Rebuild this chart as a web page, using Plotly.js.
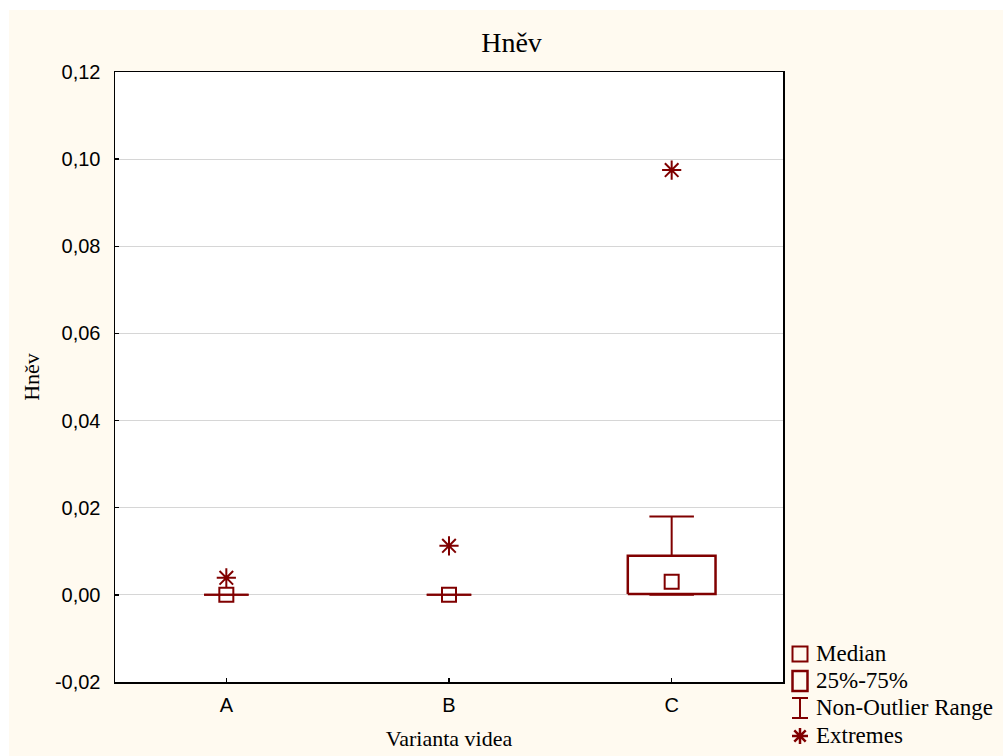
<!DOCTYPE html>
<html>
<head>
<meta charset="utf-8">
<script src="https://cdn.plot.ly/plotly-3.0.1.min.js"></script>
<style>html,body{margin:0;padding:0;background:#fff;}#chart{width:1003px;height:756px;}</style>
</head>
<body>
<div id="chart"></div>
<script>
// ---- data ----
const categories = ['A', 'B', 'C'];
const medians = [0, 0, 0.003];
const q1 = [0, 0, 0.0002];
const q3 = [0, 0, 0.009];
const whiskerLow = [0, 0, 0];
const whiskerHigh = [0, 0, 0.018];
const extremes = [0.0039, 0.01125, 0.0975];
const yTickVals = [-0.02, 0, 0.02, 0.04, 0.06, 0.08, 0.10, 0.12];
const yTickText = ['-0,02', '0,00', '0,02', '0,04', '0,06', '0,08', '0,10', '0,12'];
const legendLabels = ['Median', '25%-75%', 'Non-Outlier Range', 'Extremes'];

// ---- style ----
const RED = '#800000';
const BOXHALF = 0.197;
const CAPHALF = 0.1;
const serif = 'Liberation Serif, Times New Roman, serif';
const sans = 'Liberation Sans, Arial, sans-serif';

const xs = categories.map((c, i) => i);
const traces = [];

// boxes (only drawn where the box has height)
const bx = [], by = [];
xs.forEach((x, i) => {
  if (q3[i] > q1[i]) {
    bx.push(x - BOXHALF, x + BOXHALF, x + BOXHALF, x - BOXHALF, x - BOXHALF, null);
    by.push(q1[i], q1[i], q3[i], q3[i], q1[i], null);
  }
});
traces.push({x: bx, y: by, mode: 'lines', line: {color: RED, width: 2.5}, showlegend: false, hoverinfo: 'skip'});

// whiskers
const wx = [], wy = [];
xs.forEach((x, i) => {
  wx.push(x - CAPHALF, x + CAPHALF, null, x, x, null, x - CAPHALF, x + CAPHALF, null, x, x, null);
  wy.push(whiskerHigh[i], whiskerHigh[i], null, whiskerHigh[i], q3[i], null, whiskerLow[i], whiskerLow[i], null, q1[i], whiskerLow[i], null);
});
traces.push({x: wx, y: wy, mode: 'lines', line: {color: RED, width: 2}, showlegend: false, hoverinfo: 'skip'});

// medians
traces.push({x: xs, y: medians, mode: 'markers', name: 'Median', showlegend: false,
  marker: {symbol: 'square-open', size: 14, color: RED, line: {width: 2, color: RED}}});

// extremes
traces.push({x: xs, y: extremes, mode: 'markers', name: 'Extremes', showlegend: false,
  marker: {symbol: 'asterisk-open', size: 16, color: RED, line: {width: 2, color: RED}}});

const W = 1003, H = 756, L = 115, R = 220, T = 72, B = 74;
const pw = W - L - R, ph = H - T - B;
const px = v => (v - L) / pw;
const py = v => (H - B - v) / ph;

// ---- manual legend (layout decoration) ----
const legRows = [654, 681, 708, 736];
const keyX = 800, textX = 815;
const annotations = legendLabels.map((t, i) => ({
  text: t, xref: 'paper', yref: 'paper', x: px(textX), y: py(legRows[i] - 1),
  xanchor: 'left', yanchor: 'middle', showarrow: false, borderpad: 0,
  font: {family: serif, size: 23, color: '#000'}
}));
const shapes = [
  // white frame outside the cream panel
  {type: 'rect', xref: 'paper', yref: 'paper', x0: px(0), x1: px(W), y0: py(10), y1: py(0),
   fillcolor: '#ffffff', line: {width: 0}, layer: 'below'},
  {type: 'rect', xref: 'paper', yref: 'paper', x0: px(0), x1: px(9), y0: py(H), y1: py(0),
   fillcolor: '#ffffff', line: {width: 0}, layer: 'below'},
  // Median key
  {type: 'rect', xref: 'paper', yref: 'paper', x0: px(keyX - 7.5), x1: px(keyX + 7.5),
   y0: py(legRows[0] + 7.5), y1: py(legRows[0] - 7.5), line: {color: RED, width: 2}},
  // 25%-75% key
  {type: 'rect', xref: 'paper', yref: 'paper', x0: px(keyX - 7.5), x1: px(keyX + 7.5),
   y0: py(legRows[1] + 10), y1: py(legRows[1] - 10), line: {color: RED, width: 2.5}},
  // Non-outlier key (I-beam)
  {type: 'line', xref: 'paper', yref: 'paper', x0: px(keyX - 8), x1: px(keyX + 8),
   y0: py(legRows[2] - 10), y1: py(legRows[2] - 10), line: {color: RED, width: 2}},
  {type: 'line', xref: 'paper', yref: 'paper', x0: px(keyX), x1: px(keyX),
   y0: py(legRows[2] - 10), y1: py(legRows[2] + 10), line: {color: RED, width: 2}},
  {type: 'line', xref: 'paper', yref: 'paper', x0: px(keyX - 8), x1: px(keyX + 8),
   y0: py(legRows[2] + 10), y1: py(legRows[2] + 10), line: {color: RED, width: 2}},
  // Extremes key (asterisk)
  {type: 'path', xref: 'paper', yref: 'paper', xsizemode: 'pixel', ysizemode: 'pixel',
   xanchor: px(keyX), yanchor: py(legRows[3]),
   path: 'M-8,0H8M0,-8V8M-5.7,-5.7L5.7,5.7M-5.7,5.7L5.7,-5.7', line: {color: RED, width: 2.5}}
];

const layout = {
  width: W, height: H,
  margin: {l: L, r: R, t: T, b: B, pad: 0},
  paper_bgcolor: '#fffaf0',
  plot_bgcolor: '#ffffff',
  showlegend: false,
  title: {text: 'Hněv', font: {family: serif, size: 28, color: '#000'},
          x: 0.51, xref: 'container', xanchor: 'center', y: 1 - 42 / H, yref: 'container', yanchor: 'middle'},
  xaxis: {
    range: [-0.5, 2.5], tickvals: xs, ticktext: categories,
    showgrid: false, zeroline: false,
    showline: true, mirror: true, linecolor: '#000', linewidth: 1.5,
    ticks: 'inside', ticklen: 4, tickwidth: 1.5, tickcolor: '#000',
    tickfont: {family: sans, size: 20, color: '#000'}, ticklabelstandoff: 4,
    title: {text: 'Varianta videa', font: {family: serif, size: 22, color: '#000'}, standoff: 16},
    fixedrange: true
  },
  yaxis: {
    range: [-0.02, 0.12], tickvals: yTickVals, ticktext: yTickText,
    showgrid: true, gridcolor: '#d6d6d6', gridwidth: 1, zeroline: false,
    showline: true, mirror: true, linecolor: '#000', linewidth: 1.5,
    ticks: 'inside', ticklen: 4, tickwidth: 1.5, tickcolor: '#000',
    tickfont: {family: sans, size: 20, color: '#000'}, ticklabelstandoff: 9,
    title: {text: 'Hněv', font: {family: serif, size: 22, color: '#000'}, standoff: 9},
    fixedrange: true
  },
  annotations: annotations,
  shapes: shapes
};

Plotly.newPlot('chart', traces, layout, {displayModeBar: false, staticPlot: true});
</script>
</body>
</html>
